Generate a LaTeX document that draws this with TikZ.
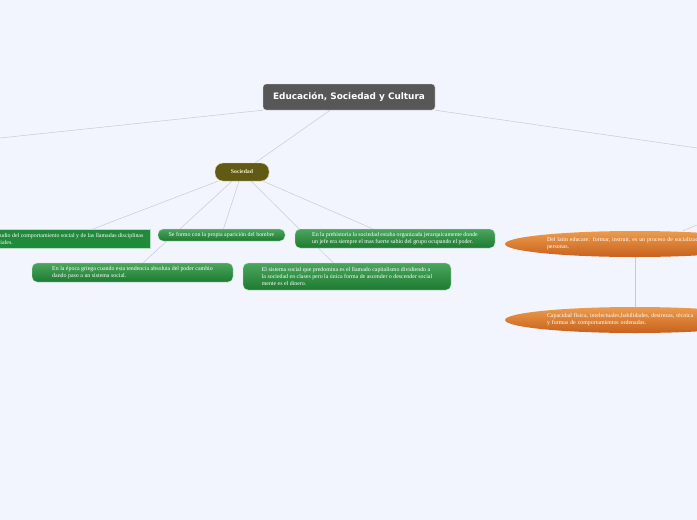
\documentclass[tikz,border=0pt]{standalone}
\usepackage{fontspec}
\setmainfont{Liberation Serif}
\newfontfamily\titlefont{DejaVu Sans}
\usetikzlibrary{shapes.geometric}
\pgfdeclarelayer{back}
\pgfsetlayers{back,main}
\definecolor{paper}{HTML}{F2F5FD}
\definecolor{linkgray}{HTML}{C6CAD4}
\definecolor{rootgray}{HTML}{575757}
\definecolor{olive}{HTML}{615A15}
\definecolor{oliveedge}{HTML}{D9D49E}
\definecolor{cream}{HTML}{F1EAC6}
\definecolor{greentop}{HTML}{4BA65D}
\definecolor{greenbot}{HTML}{1D7A31}
\definecolor{greenflat}{HTML}{1F8A39}
\definecolor{orangetop}{HTML}{EC9C4E}
\definecolor{orangebot}{HTML}{C8611B}
\begin{document}
\begin{tikzpicture}[x=1pt,y=-1pt,
  link/.style={draw=linkgray,line width=0.5pt},
  rootbox/.style={fill=rootgray,draw=white!85!gray,line width=0.4pt,rounded corners=3pt,
    minimum width=172pt,minimum height=26pt,inner sep=0pt,text=white,
    font=\titlefont\bfseries\fontsize{8.9}{10}\selectfont},
  mainbox/.style={fill=olive,draw=oliveedge,line width=0.4pt,rounded corners=8pt,
    minimum width=54pt,minimum height=18pt,inner sep=0pt,text=cream,
    font=\bfseries\fontsize{5.8}{6}\selectfont},
  smalltext/.style={text=white,align=left,inner sep=0pt,font=\fontsize{5.9}{7}\selectfont},
  greenbox/.style={smalltext,top color=greentop,bottom color=greenbot,
    draw=white!70!greentop,line width=0.4pt,rounded corners=5pt},
  flatbox/.style={smalltext,fill=greenflat,draw=white!70!greenflat,line width=0.4pt},
  orangeoval/.style={smalltext,ellipse,top color=orangetop,bottom color=orangebot,
    minimum width=260pt,minimum height=26pt,text width=176pt}]
  \begin{pgfonlayer}{back}
    \fill[paper] (0,0) rectangle (697,520);
  \end{pgfonlayer}
  \useasboundingbox (0,0) rectangle (697,520);
  \clip (0,0) rectangle (697,520);

  % root and first level
  \node[rootbox] (root) at (349,97) {Educación, Sociedad y Cultura};
  \node[mainbox] (soc) at (242,172) {Sociedad};
  \coordinate (offL) at (0,138);
  \coordinate (offR) at (697,148);

  % Sociedad
  \node[flatbox,minimum width=164pt,minimum height=19pt] (est) at (68,238.5)
    {Estudio del comportamiento social y de las llamadas disciplinas\\sociales.};
  \node[greenbox,minimum width=127pt,minimum height=12pt] (sf) at (221.5,235)
    {Se formo con la propia aparición del hombre};
  \node[greenbox,minimum width=200pt,minimum height=19pt] (pre) at (395,238.5)
    {En la prehistoria la sociedad estaba organizada jerarquicamente donde\\un jefe era siempre el mas fuerte sabio del grupo ocupando el poder.};
  \node[greenbox,minimum width=201pt,minimum height=19pt] (gri) at (132.5,272.5)
    {En la época griega cuando esta tendencia absoluta del poder cambio\\dando paso a un sistema social.};
  \node[greenbox,minimum width=208pt,minimum height=27pt] (sis) at (347,276.5)
    {El sistema social que predomina es el llamado capitalismo dividiendo a\\la sociedad en clases pero la única forma de ascender o descender social\\mente es el dinero.};

  % Educacion
  \node[orangeoval] (lat) at (635,244)
    {Del latin educare: formar, instruir, es un proceso de socialización de las\\personas.};
  \node[orangeoval] (cap) at (635,320)
    {Capacidad física, intelectuales,habilidades, destrezas, técnica\\y formas de comportamientos ordenadas.};
  \coordinate (offO) at (697,225);

  \begin{pgfonlayer}{back}
    \draw[link] (root.south west) -- (offL);
    \draw[link] (root.south east) -- (offR);
    \draw[link] (root) -- (soc);
    \draw[link] (soc) -- (est);
    \draw[link] (soc) -- (sf);
    \draw[link] (soc) -- (pre);
    \draw[link] (soc) -- (gri);
    \draw[link] (soc) -- (sis);
    \draw[link] (lat) -- (cap);
    \draw[link] ([xshift=48pt]lat.north) -- (offO);
  \end{pgfonlayer}
\end{tikzpicture}
\end{document}
